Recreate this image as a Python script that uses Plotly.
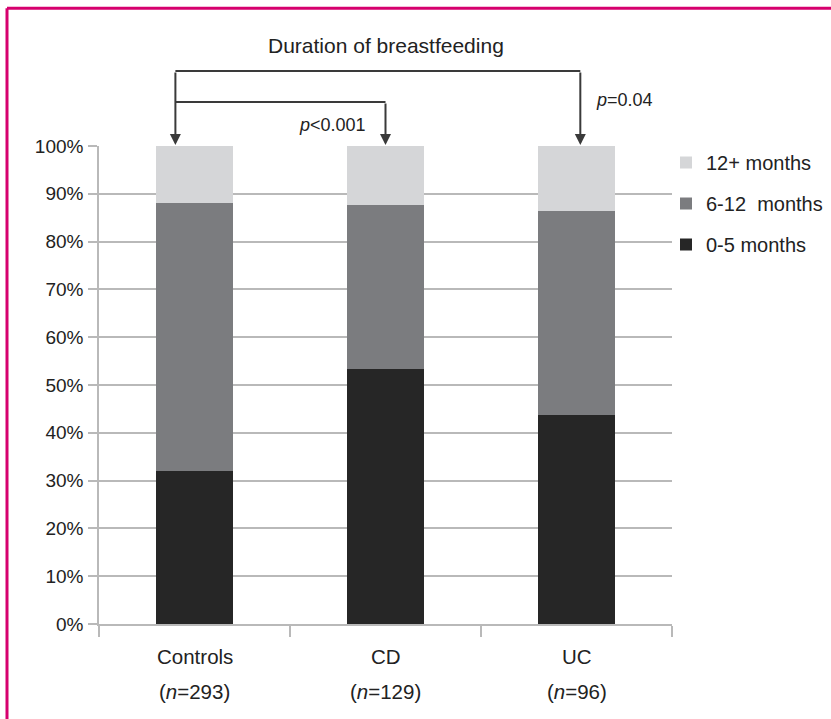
import plotly.graph_objects as go

categories = ["Controls", "CD", "UC"]
n_values = [293, 129, 96]
months_0_5 = [32.0, 53.4, 43.7]
months_6_12 = [56.0, 34.2, 42.6]
months_12_plus = [12.0, 12.4, 13.7]
series_names = ["0-5 months", "6-12  months", "12+ months"]
series_colors = ["#262626", "#7b7c7f", "#d5d6d8"]
y_ticks = [0, 10, 20, 30, 40, 50, 60, 70, 80, 90, 100]
y_tick_labels = [f"{v}%" for v in y_ticks]

FONT = "Liberation Sans, Arial, Helvetica, sans-serif"
TXT = "#222222"
GRID = "#b9b9b9"
LINE = "#3a3a3a"

PLOT_L, PLOT_R, PLOT_T, PLOT_B = 99, 672, 146, 624.5
PLOT_W = PLOT_R - PLOT_L
PLOT_H = PLOT_B - PLOT_T


def py(pix):
    """pixel row -> paper y"""
    return (PLOT_B - pix) / PLOT_H


def px(pix):
    """pixel column -> paper x"""
    return (pix - PLOT_L) / PLOT_W


fig = go.Figure()
series_values = [months_0_5, months_6_12, months_12_plus]
for i, (name, vals, col) in enumerate(zip(series_names, series_values, series_colors)):
    fig.add_trace(go.Bar(
        x=list(range(len(categories))), y=vals, name=name,
        marker=dict(color=col, line=dict(width=0)),
        width=0.4, legendgroup=f"g{i}", legendrank=10 - i,
    ))

fig.update_layout(
    width=831, height=719,
    barmode="stack",
    paper_bgcolor="white", plot_bgcolor="white",
    margin=dict(l=PLOT_L, r=831 - PLOT_R, t=PLOT_T, b=719 - PLOT_B, autoexpand=False),
    font=dict(family=FONT, size=19, color=TXT),
    showlegend=True,
    legend=dict(x=px(666), xanchor="left", y=py(143), yanchor="top",
                traceorder="grouped", tracegroupgap=12,
                font=dict(size=20, color=TXT), bgcolor="rgba(0,0,0,0)",
                itemclick=False, itemdoubleclick=False),
)

fig.update_xaxes(
    type="linear", range=[-0.5, 2.5],
    tickmode="array", tickvals=[-0.5, 0.5, 1.5, 2.5], ticktext=["", "", "", ""],
    ticks="outside", ticklen=11, tickwidth=1.5, tickcolor=GRID,
    showline=True, linecolor=GRID, linewidth=1.5,
    showgrid=False, zeroline=False, fixedrange=True,
)
fig.update_yaxes(
    range=[0, 100], tickmode="array", tickvals=y_ticks, ticktext=y_tick_labels,
    ticks="outside", ticklen=9, tickwidth=1.5, tickcolor=GRID,
    showline=True, linecolor=GRID, linewidth=1.5,
    showgrid=True, gridcolor=GRID, gridwidth=1.5, zeroline=False,
    ticklabelstandoff=1, tickfont=dict(size=19, color=TXT), fixedrange=True,
)

# category labels and n
for i, (cat, n) in enumerate(zip(categories, n_values)):
    fig.add_annotation(x=i, y=py(657), xref="x", yref="paper", text=cat,
                       xanchor="center", yanchor="middle",
                       showarrow=False, font=dict(size=20.5, color=TXT))
    fig.add_annotation(x=i, y=py(692), xref="x", yref="paper",
                       text=f"(<i>n</i>={n})", xanchor="center", yanchor="middle",
                       showarrow=False, font=dict(size=20.5, color=TXT))

# Bracket annotations
y_top, y_mid = py(71), py(102)
x_ctrl, x_cd, x_uc = -0.1, 1.0, 2.02
fig.add_shape(type="line", xref="x", yref="paper", x0=x_ctrl, x1=x_uc, y0=y_top, y1=y_top,
              line=dict(color=LINE, width=2))
fig.add_shape(type="line", xref="x", yref="paper", x0=x_ctrl, x1=x_cd, y0=y_mid, y1=y_mid,
              line=dict(color=LINE, width=2))
tip = py(145)
for xx, yy in [(x_ctrl, y_top), (x_cd, y_mid), (x_uc, y_top)]:
    h_px = (yy - tip) * PLOT_H
    fig.add_annotation(x=xx, y=tip, xref="x", yref="paper", ax=0, ay=-h_px,
                       text="", showarrow=True, arrowhead=2, arrowsize=1.1,
                       arrowwidth=2, arrowcolor=LINE, standoff=0)

fig.add_annotation(x=1.0, y=py(45), xref="x", yref="paper",
                   text="Duration of breastfeeding", showarrow=False,
                   xanchor="center", yanchor="middle",
                   font=dict(size=21, color=TXT))
fig.add_annotation(x=0.72, y=py(125), xref="x", yref="paper",
                   text="<i>p</i>&lt;0.001", showarrow=False,
                   xanchor="center", yanchor="middle",
                   font=dict(size=18, color=TXT))
fig.add_annotation(x=2.25, y=py(100), xref="x", yref="paper",
                   text="<i>p</i>=0.04", showarrow=False,
                   xanchor="center", yanchor="middle",
                   font=dict(size=18, color=TXT))

# magenta frame (top and left)
MAG = "#d6006e"
fig.add_shape(type="line", xref="paper", yref="paper", x0=px(7), x1=px(840),
              y0=py(8), y1=py(8), line=dict(color=MAG, width=3))
fig.add_shape(type="line", xref="paper", yref="paper", x0=px(7), x1=px(7),
              y0=py(8), y1=py(730), line=dict(color=MAG, width=3))

fig.write_html("out.html", config={"displayModeBar": False},
               post_script="document.body.style.margin='0';")
